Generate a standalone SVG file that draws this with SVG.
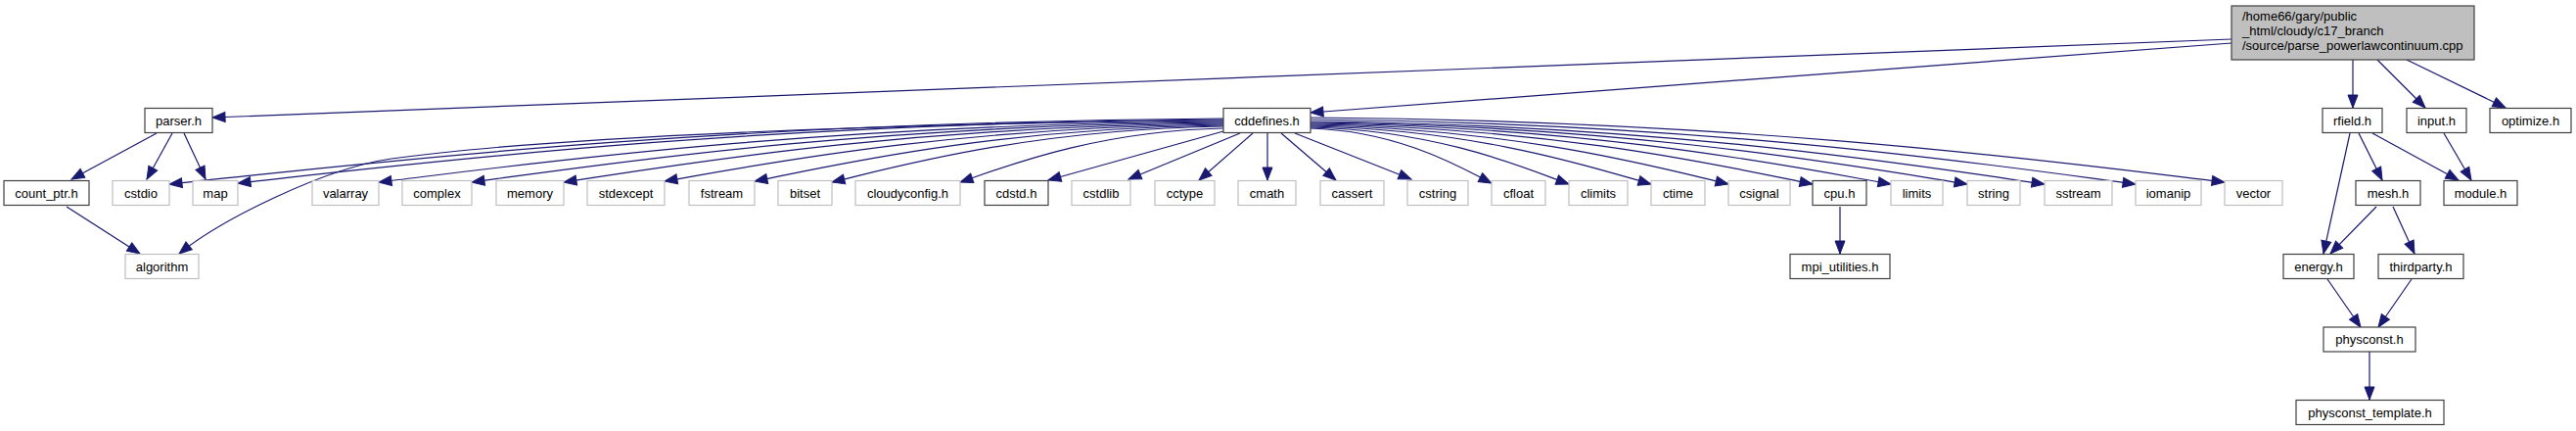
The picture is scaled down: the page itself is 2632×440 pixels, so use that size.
<svg xmlns="http://www.w3.org/2000/svg" width="2632" height="440" viewBox="0 0 2632 440">
<style>
text{font-family:"Liberation Sans",Arial,Helvetica,sans-serif;font-size:13px;fill:#000;text-anchor:middle}
.n rect{fill:#fff;stroke:#404040;stroke-width:1.2}
.s rect{fill:#fff;stroke:#bfbfbf;stroke-width:1.2}
.r rect{fill:#bfbfbf;stroke:#404040;stroke-width:1.2}
.r text{text-anchor:start}
#edges path{fill:none;stroke:#191970;stroke-width:1.2;marker-end:url(#ah)}
</style>
<defs>
<marker id="ah" markerUnits="userSpaceOnUse" markerWidth="14" markerHeight="10" refX="13" refY="5" orient="auto" overflow="visible">
<path d="M0,0 L13,5 L0,10 z" fill="#191970" stroke="#191970" stroke-width="1"/>
</marker>
</defs>
<rect width="2632" height="440" fill="#fff"/>
<g id="edges">
<path d="M2280,40 L217,120"/>
<path d="M2280,44 L1339,115"/>
<path d="M2404,61 L2404,110"/>
<path d="M2429,61 L2478,110"/>
<path d="M2459,61 L2560,110"/>
<path d="M160,136 L73,183"/>
<path d="M176,136 L150,183"/>
<path d="M188,136 L210,183"/>
<path d="M68,211 L143,259"/>
<path d="M1880,211 L1880,259"/>
<path d="M2401,136 L2374,259"/>
<path d="M2410,136 L2434,184"/>
<path d="M2424,136 L2512,184"/>
<path d="M2497,136 L2525,184"/>
<path d="M2428,211 L2381,259"/>
<path d="M2445,211 L2467,259"/>
<path d="M2378,285 L2412,334"/>
<path d="M2464,285 L2430,334"/>
<path d="M2421,359 L2421,408"/>
<path d="M1250,121 C711.5,124.4 334.6,171.3 173,188"/>
<path d="M1250,122 C746.5,125.3 394,170.8 243,187"/>
<path d="M1250,123 C900,126 560,140 400,162 C330,172 225,225 183,259"/>
<path d="M1250,124 C818.5,127.1 516.5,170.5 387,186"/>
<path d="M1250,125 C866,128 597.2,170.8 482,186"/>
<path d="M1250,126 C913,129 677.1,171 576,186"/>
<path d="M1250,127 C964.5,129.9 764.7,170.5 679,185"/>
<path d="M1250,128 C1010.5,130.9 842.9,170.8 771,185"/>
<path d="M1250,129 C1050,131.9 910,171.8 850,186"/>
<path d="M1250,131 C1115.5,133.8 1021.4,172.3 981,186"/>
<path d="M1250,134 L1071,184"/>
<path d="M1267,136 L1153,183"/>
<path d="M1280,136 L1225,184"/>
<path d="M1295,136 L1295,184"/>
<path d="M1309,136 L1365,184"/>
<path d="M1323,136 L1442,183"/>
<path d="M1339,131 C1431.5,133.8 1496.3,173 1524,187"/>
<path d="M1339,130 C1471,132.9 1563.4,173.5 1603,188"/>
<path d="M1339,129 C1513,132 1634.8,173.3 1687,188"/>
<path d="M1339,128 C1552.5,131 1702,173 1766,188"/>
<path d="M1339,127 C1595.5,130 1775,172.8 1852,188"/>
<path d="M1339,126 C1635.5,129.1 1843,172.5 1932,188"/>
<path d="M1339,125 C1674.5,128.2 1909.4,172.3 2010,188"/>
<path d="M1339,124 C1714,127.2 1976.5,172 2089,188"/>
<path d="M1339,122 C1760.5,125.3 2055.6,171.5 2182,188"/>
<path d="M1339,120 C1806,123.3 2132.9,169.5 2273,186"/>
</g>
<g id="root" class="r"><rect x="2280" y="6" width="248" height="55"/><text x="2291" y="21">/home66/gary/public</text><text x="2291" y="36">_html/cloudy/c17_branch</text><text x="2291" y="51">/source/parse_powerlawcontinuum.cpp</text></g>
<g id="parser" class="n"><rect x="148" y="110.5" width="69" height="25"/><text x="182.5" y="127.5">parser.h</text></g>
<g id="cddefines" class="n"><rect x="1250" y="110.5" width="89" height="25"/><text x="1294.5" y="127.5">cddefines.h</text></g>
<g id="rfield" class="n"><rect x="2373" y="110.5" width="61" height="25"/><text x="2403.5" y="127.5">rfield.h</text></g>
<g id="input" class="n"><rect x="2459" y="110.5" width="61" height="25"/><text x="2489.5" y="127.5">input.h</text></g>
<g id="optimize" class="n"><rect x="2544" y="110.5" width="83" height="25"/><text x="2585.5" y="127.5">optimize.h</text></g>
<g id="count_ptr" class="n"><rect x="4" y="184.5" width="87" height="25"/><text x="47.5" y="201.5">count_ptr.h</text></g>
<g id="cstdio" class="s"><rect x="115" y="184.5" width="58" height="25"/><text x="144" y="201.5">cstdio</text></g>
<g id="map" class="s"><rect x="197" y="184.5" width="46" height="25"/><text x="220" y="201.5">map</text></g>
<g id="valarray" class="s"><rect x="319" y="184.5" width="68" height="25"/><text x="353" y="201.5">valarray</text></g>
<g id="complex" class="s"><rect x="411" y="184.5" width="71" height="25"/><text x="446.5" y="201.5">complex</text></g>
<g id="memory" class="s"><rect x="507" y="184.5" width="69" height="25"/><text x="541.5" y="201.5">memory</text></g>
<g id="stdexcept" class="s"><rect x="600" y="184.5" width="79" height="25"/><text x="639.5" y="201.5">stdexcept</text></g>
<g id="fstream" class="s"><rect x="704" y="184.5" width="67" height="25"/><text x="737.5" y="201.5">fstream</text></g>
<g id="bitset" class="s"><rect x="795" y="184.5" width="55" height="25"/><text x="822.5" y="201.5">bitset</text></g>
<g id="cloudyconfig" class="s"><rect x="874" y="184.5" width="107" height="25"/><text x="927.5" y="201.5">cloudyconfig.h</text></g>
<g id="cdstd" class="n"><rect x="1006" y="184.5" width="65" height="25"/><text x="1038.5" y="201.5">cdstd.h</text></g>
<g id="cstdlib" class="s"><rect x="1095" y="184.5" width="60" height="25"/><text x="1125" y="201.5">cstdlib</text></g>
<g id="cctype" class="s"><rect x="1180" y="184.5" width="61" height="25"/><text x="1210.5" y="201.5">cctype</text></g>
<g id="cmath" class="s"><rect x="1265" y="184.5" width="59" height="25"/><text x="1294.5" y="201.5">cmath</text></g>
<g id="cassert" class="s"><rect x="1349" y="184.5" width="65" height="25"/><text x="1381.5" y="201.5">cassert</text></g>
<g id="cstring" class="s"><rect x="1438" y="184.5" width="62" height="25"/><text x="1469" y="201.5">cstring</text></g>
<g id="cfloat" class="s"><rect x="1524" y="184.5" width="55" height="25"/><text x="1551.5" y="201.5">cfloat</text></g>
<g id="climits" class="s"><rect x="1603" y="184.5" width="60" height="25"/><text x="1633" y="201.5">climits</text></g>
<g id="ctime" class="s"><rect x="1687" y="184.5" width="55" height="25"/><text x="1714.5" y="201.5">ctime</text></g>
<g id="csignal" class="s"><rect x="1766" y="184.5" width="63" height="25"/><text x="1797.5" y="201.5">csignal</text></g>
<g id="cpu" class="n"><rect x="1852" y="184.5" width="55" height="25"/><text x="1879.5" y="201.5">cpu.h</text></g>
<g id="limits" class="s"><rect x="1932" y="184.5" width="53" height="25"/><text x="1958.5" y="201.5">limits</text></g>
<g id="string" class="s"><rect x="2010" y="184.5" width="54" height="25"/><text x="2037" y="201.5">string</text></g>
<g id="sstream" class="s"><rect x="2089" y="184.5" width="69" height="25"/><text x="2123.5" y="201.5">sstream</text></g>
<g id="iomanip" class="s"><rect x="2182" y="184.5" width="67" height="25"/><text x="2215.5" y="201.5">iomanip</text></g>
<g id="vector" class="s"><rect x="2273" y="184.5" width="59" height="25"/><text x="2302.5" y="201.5">vector</text></g>
<g id="mesh" class="n"><rect x="2407" y="184.5" width="66" height="25"/><text x="2440" y="201.5">mesh.h</text></g>
<g id="module" class="n"><rect x="2497" y="184.5" width="75" height="25"/><text x="2534.5" y="201.5">module.h</text></g>
<g id="algorithm" class="s"><rect x="128" y="259.5" width="75" height="25"/><text x="165.5" y="276.5">algorithm</text></g>
<g id="mpi_utilities" class="n"><rect x="1829" y="259.5" width="102" height="25"/><text x="1880" y="276.5">mpi_utilities.h</text></g>
<g id="energy" class="n"><rect x="2333" y="259.5" width="72" height="25"/><text x="2369" y="276.5">energy.h</text></g>
<g id="thirdparty" class="n"><rect x="2430" y="259.5" width="87" height="25"/><text x="2473.5" y="276.5">thirdparty.h</text></g>
<g id="physconst" class="n"><rect x="2374" y="334" width="94" height="25"/><text x="2421" y="351">physconst.h</text></g>
<g id="physconst_template" class="n"><rect x="2346" y="408.5" width="151" height="25"/><text x="2421.5" y="425.5">physconst_template.h</text></g>
</svg>
